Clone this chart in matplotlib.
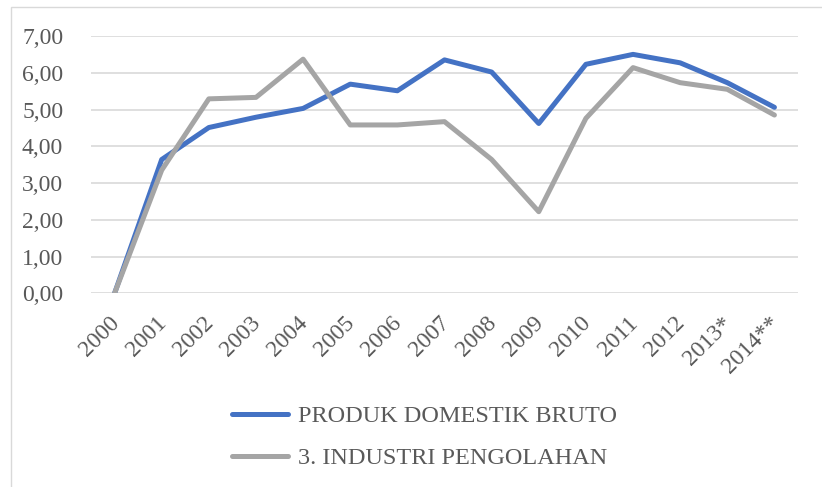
import matplotlib
matplotlib.use("Agg")
import matplotlib.pyplot as plt
from matplotlib.patches import Rectangle
import matplotlib.transforms as mtransforms

years = ["2000", "2001", "2002", "2003", "2004", "2005", "2006", "2007",
         "2008", "2009", "2010", "2011", "2012", "2013*", "2014**"]
pdb = [0.00, 3.64, 4.51, 4.79, 5.03, 5.69, 5.51, 6.35, 6.02, 4.62, 6.23,
       6.50, 6.27, 5.73, 5.06]
industri = [0.00, 3.35, 5.29, 5.33, 6.37, 4.58, 4.58, 4.67, 3.64, 2.22, 4.76,
            6.14, 5.73, 5.55, 4.85]
series_labels = ["PRODUK DOMESTIK BRUTO", "3. INDUSTRI PENGOLAHAN"]
yticks = [0, 1, 2, 3, 4, 5, 6, 7]

W, H = 822, 487
plt.rcParams["font.family"] = ["Liberation Serif", "DejaVu Serif"]
txt = "#595959"

fig = plt.figure(figsize=(W / 100, H / 100), dpi=100)
fig.patch.set_facecolor("white")

# outer chart border (only left and top visible)
fig.patches.append(Rectangle((11 / W, -0.2), 1.2, 1 - 7 / H + 0.2,
                             transform=fig.transFigure, fill=False,
                             edgecolor="#D9D9D9", linewidth=1.0, zorder=0))

ax = fig.add_axes([91 / W, 1 - 293.3 / H, (798 - 91) / W, (293.3 - 36) / H])
x = list(range(len(years)))
ax.plot(x, pdb, color="#4472C4", linewidth=3.6, solid_capstyle="round",
        solid_joinstyle="round", label=series_labels[0], zorder=3)
ax.plot(x, industri, color="#A5A5A5", linewidth=3.6, solid_capstyle="round",
        solid_joinstyle="round", label=series_labels[1], zorder=4)

ax.set_xlim(-0.5, len(years) - 0.5)
ax.set_ylim(0, 7)
ax.set_yticks(yticks)
ax.set_yticklabels([f"{v:.2f}".replace(".", ",") for v in yticks],
                   fontsize=17, color=txt)
ax.grid(axis="y", color="#D9D9D9", linewidth=1.2)
ax.set_axisbelow(True)
for s in ax.spines.values():
    s.set_visible(False)
ax.tick_params(axis="y", length=0, pad=20)
ax.tick_params(axis="x", length=0, pad=14)
ax.set_xticks(x)
ax.set_xticklabels(years, fontsize=17, color=txt, rotation=45,
                   ha="right", va="top", rotation_mode="anchor")
off = mtransforms.ScaledTranslation(-6 / 100, 0, fig.dpi_scale_trans)
for lab in ax.get_xticklabels():
    lab.set_transform(lab.get_transform() + off)

leg = fig.legend(loc="upper left", bbox_to_anchor=(232 / W, 1 - 405 / H),
                 frameon=False, fontsize=17.5, handlelength=2.3,
                 handletextpad=0.42, labelspacing=0.84, borderpad=0,
                 borderaxespad=0)
for t in leg.get_texts():
    t.set_color(txt)

fig.savefig("out.png", dpi=100)
